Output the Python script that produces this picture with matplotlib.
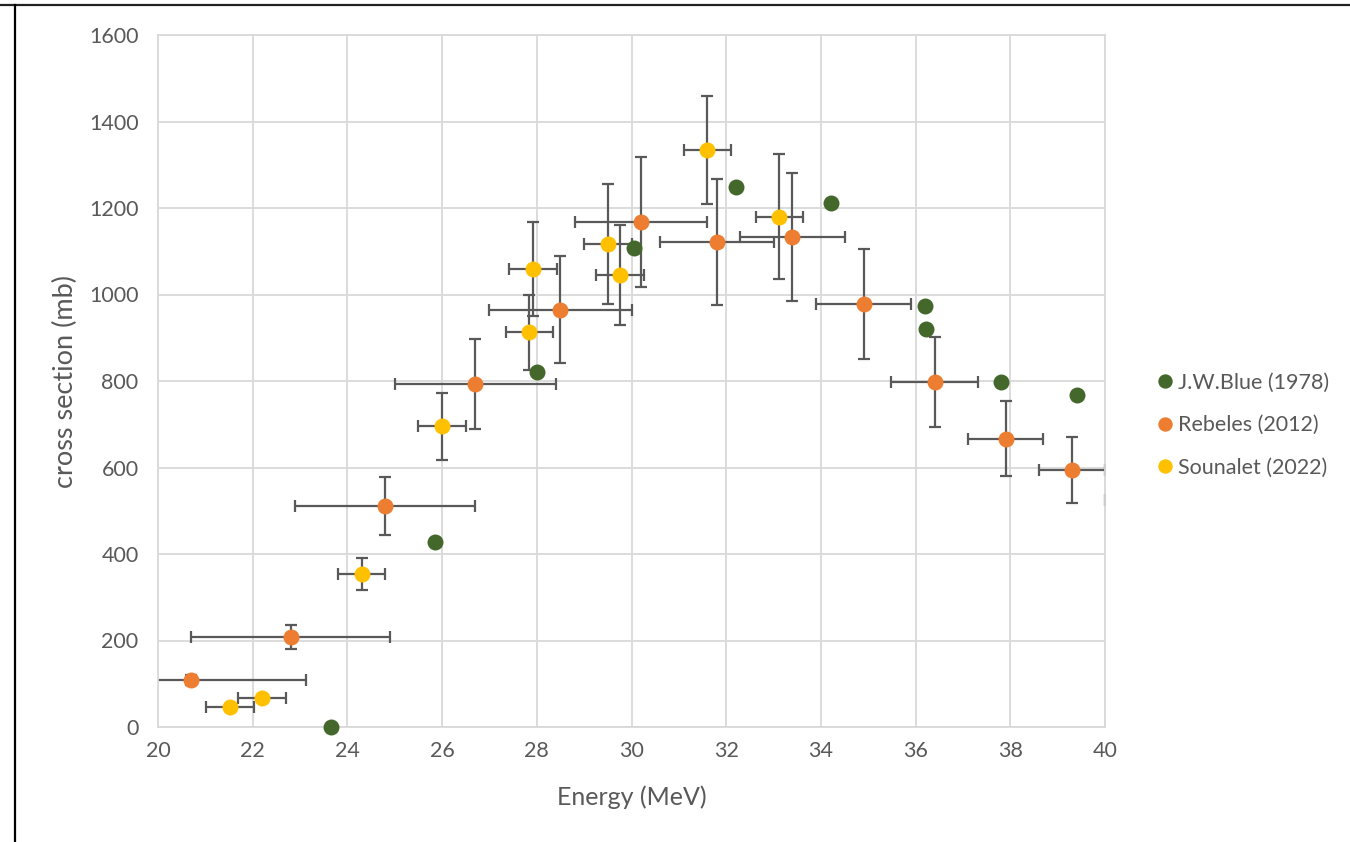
import matplotlib
matplotlib.use("Agg")
import matplotlib.pyplot as plt
from matplotlib.lines import Line2D

# ---------------- data ----------------
blue_x = [23.65, 25.85, 28.0, 30.05, 32.2, 34.21, 36.2, 36.22, 37.8, 39.41]
blue_y = [0, 427, 821, 1107, 1248, 1211, 973, 920, 798, 768]

reb_x = [20.7, 22.8, 24.8, 26.7, 28.5, 30.2, 31.8, 33.4, 34.9, 36.4, 37.9, 39.3, 40.65]
reb_y = [108, 208, 512, 793, 965, 1168, 1121, 1133, 978, 798, 667, 595, 525]
reb_xerr = [2.42, 2.11, 1.9, 1.7, 1.5, 1.4, 1.2, 1.1, 1.0, 0.91, 0.8, 0.7, 0.65]
reb_yerr = [12, 28, 67, 103, 124, 151, 146, 148, 127, 104, 87, 76, 70]

sou_x = [21.52, 22.2, 24.3, 26.0, 27.84, 27.92, 29.5, 29.76, 31.6, 33.12]
sou_y = [47, 68, 353, 695, 913, 1059, 1117, 1045, 1334, 1180]
sou_xerr = [0.5, 0.5, 0.5, 0.5, 0.5, 0.5, 0.5, 0.5, 0.5, 0.5]
sou_yerr = [0, 0, 37, 77, 87, 109, 138, 116, 125, 145]

labels = ["J.W.Blue (1978)", "Rebeles (2012)", "Sounalet (2022)"]
x_ticks = [20, 22, 24, 26, 28, 30, 32, 34, 36, 38, 40]
y_ticks = [0, 200, 400, 600, 800, 1000, 1200, 1400, 1600]

# ---------------- style ----------------
plt.rcParams['font.family'] = ['Lato', 'DejaVu Sans']
c_green = '#44682C'
c_orange = '#ED7D31'
c_yellow = '#FFC000'
c_err = '#595959'
c_grid = '#D9D9D9'
c_text = '#595959'

fig = plt.figure(figsize=(13.5, 8.42), dpi=100)
ax = fig.add_axes([158/1350, 1 - 727/842, (1105-158)/1350, (727-35)/842])

ax.set_xlim(20, 40)
ax.set_ylim(0, 1600)
ax.set_xticks(x_ticks)
ax.set_yticks(y_ticks)
ax.grid(True, color=c_grid, lw=1.3, zorder=0)
ax.set_axisbelow(True)
for s in ax.spines.values():
    s.set_color(c_grid)
    s.set_linewidth(1.3)
ax.tick_params(length=0, labelsize=15.5, colors=c_text)
ax.tick_params(axis='y', pad=14)
ax.tick_params(axis='x', pad=10)

ms = 11.5
ekw = dict(fmt='none', ecolor=c_err, elinewidth=1.6, capsize=4.5, capthick=1.6, zorder=2)
ax.errorbar(reb_x, reb_y, xerr=reb_xerr, yerr=reb_yerr, **ekw)
ax.errorbar(sou_x, sou_y, xerr=sou_xerr, yerr=sou_yerr, **ekw)

h1, = ax.plot(blue_x, blue_y, 'o', color=c_green, ms=ms, mec='none', zorder=4, label=labels[0], clip_on=False)
h2, = ax.plot(reb_x, reb_y, 'o', color=c_orange, ms=ms, mec='none', zorder=4, label=labels[1])
h3, = ax.plot(sou_x, sou_y, 'o', color=c_yellow, ms=ms, mec='none', zorder=5, label=labels[2])

ax.set_xlabel("Energy (MeV)", fontsize=18, color=c_text, labelpad=18)
ax.set_ylabel("cross section (mb)", fontsize=19.5, color=c_text, labelpad=8)

leg = ax.legend(handles=[h1, h2, h3], loc='center left', bbox_to_anchor=(1.036, 0.436),
                frameon=False, fontsize=15.5, handlelength=0.6, handletextpad=0.3,
                labelspacing=1.05, markerscale=0.9)
for t in leg.get_texts():
    t.set_color(c_text)

# outer border lines (top and left)
fig.add_artist(Line2D([0, 1], [1 - 4.5/842, 1 - 4.5/842], transform=fig.transFigure,
                      color='#222222', lw=1.6))
fig.add_artist(Line2D([15/1350, 15/1350], [0, 1 - 4.5/842], transform=fig.transFigure,
                      color='#000000', lw=1.6))

fig.savefig("out.png", dpi=100)
